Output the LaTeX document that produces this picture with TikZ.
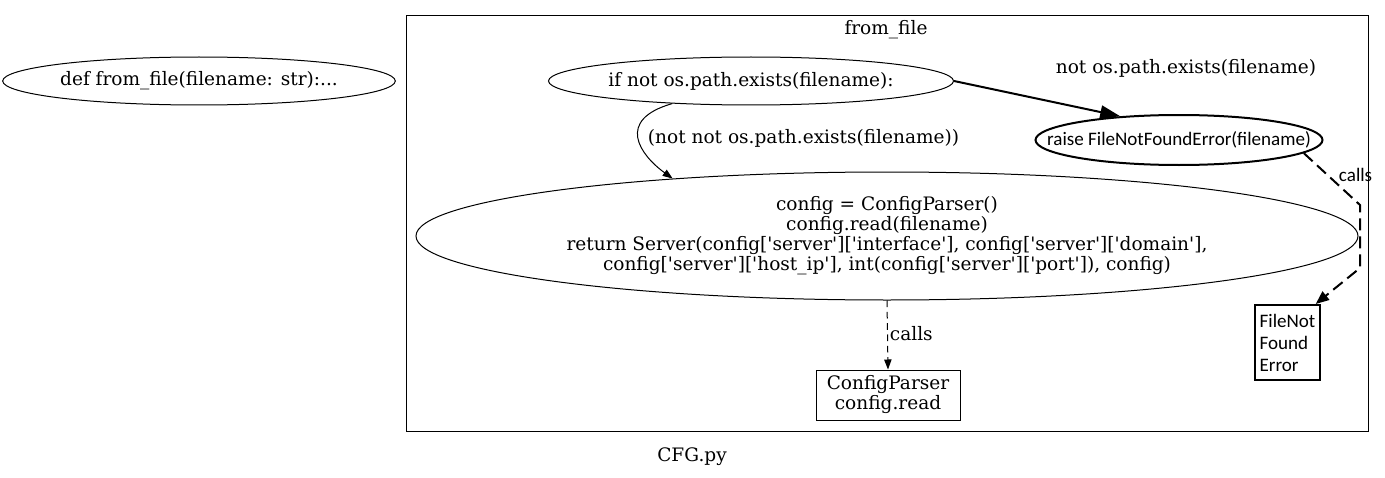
\documentclass[tikz,border=0pt]{standalone}
\usepackage{fontspec}
\setmainfont{DejaVu Serif}
\newfontfamily\calfont{Carlito}
\usetikzlibrary{arrows.meta,shapes.geometric}
\newcommand\sq{\textquotesingle}

\begin{document}
\begin{tikzpicture}[x=0.75pt,y=-0.75pt,line width=0.75pt,
  >={Triangle[length=7.5pt,width=5.5pt]},
  txt/.style={font=\fontsize{13.9}{15}\selectfont},
  sanstxt/.style={font=\calfont\fontsize{14.3}{16.5}\selectfont},
  oval/.style={draw,ellipse,inner sep=0pt,align=center,txt},
  codebox/.style={draw,rectangle,inner sep=0pt,align=center,txt},
  callsline/.style={->,dash pattern=on 5pt off 3.5pt}]
\useasboundingbox (0,0) rectangle (1385,478);
%Module
\node[oval,minimum width=289.5pt,minimum height=36pt] (def) at (199,81) {def from\_file(filename: str):...};
\node[txt] (mod) at (692,457) {CFG.py};
%Cluster from_file
\draw (406,16) rectangle (1368,431);
\node[txt] (clu) at (886,30) {from\_file};
%Depth 0
\node[oval,minimum width=303.75pt,minimum height=36pt] (if) at (751,81) {if not os.path.exists(filename):};
%Depth 1
\node[oval,line width=1.5pt,inner xsep=-24pt,minimum width=215.25pt,minimum height=37.5pt,sanstxt] (raise) at (1179,140) {raise FileNotFoundError(filename)};
\node[oval,minimum width=706.5pt,minimum height=96pt] (body) at (887,236)
  {config = ConfigParser()\\config.read(filename)\\return Server(config[\sq server\sq][\sq interface\sq], config[\sq server\sq][\sq domain\sq],\\config[\sq server\sq][\sq host\_ip\sq], int(config[\sq server\sq][\sq port\sq]), config)};
%Depth 2
\node[codebox,minimum width=108pt,minimum height=37.5pt] (cp) at (888,395) {ConfigParser\\config.read};
\node[codebox,line width=1.5pt,minimum width=48.75pt,minimum height=56.25pt,align=left,sanstxt] (fnf) at (1287.5,342.5) {FileNot\\Found\\Error};
%Edges
\draw[-{Triangle[length=15pt,width=10pt]},line width=1.5pt] (if.east) -- (raise.158);
\node[txt] (lyes) at (1186,68) {not os.path.exists(filename)};
\draw[->] (if.196) .. controls (615,120) and (640,155) .. (body.165);
\node[txt,anchor=west] (lno) at (643,138) {(not not os.path.exists(filename))};
\draw[callsline] (body.south) -- (cp.north);
\node[txt,anchor=west] (lc1) at (885,334) {calls};
\coordinate (k1) at (1360,205);
\coordinate (k2) at (1360,268);
\draw[callsline,line width=1.5pt,dash pattern=on 9pt off 4.5pt,-{Triangle[length=10pt,width=8pt]}] (raise.-6) -- (k1) -- (k2) -- ([xshift=-4]fnf.north east);
\node[sanstxt,anchor=west] (lc2) at (1334,175) {calls};
\end{tikzpicture}
\end{document}
